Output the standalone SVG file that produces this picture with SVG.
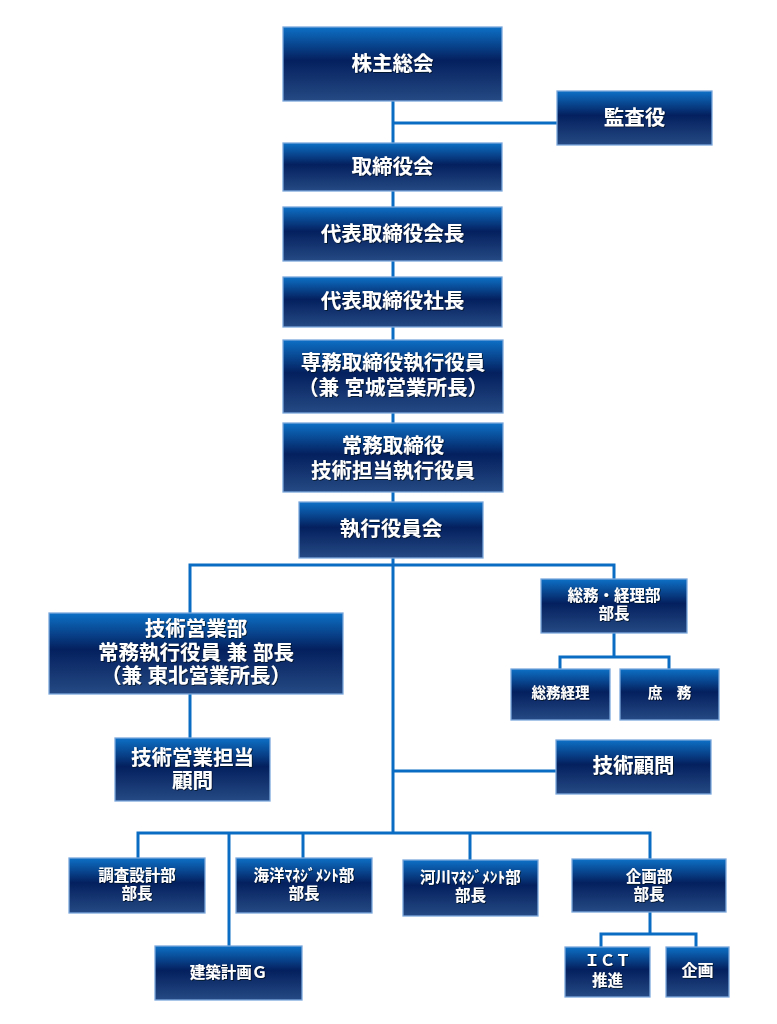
<svg xmlns="http://www.w3.org/2000/svg" width="777" height="1024" viewBox="0 0 777 1024">
<defs>
<linearGradient id="g" x1="0" y1="0" x2="0" y2="1">
<stop offset="0" stop-color="#0d70c6"/>
<stop offset="0.45" stop-color="#04205e"/>
<stop offset="1" stop-color="#254a84"/>
</linearGradient>
<filter id="sh" x="-10%" y="-30%" width="120%" height="160%">
<feDropShadow dx="0.8" dy="0.8" stdDeviation="0.6" flood-color="#000814" flood-opacity="0.9"/>
</filter>
</defs>
<style>
.b{fill:url(#g);stroke:#7ca8dc;stroke-width:1.3}
.t{fill:#ffffff;font-family:"Liberation Sans","Noto Sans CJK JP","Noto Sans CJK SC",sans-serif;font-weight:bold;text-anchor:middle;dominant-baseline:central;filter:url(#sh)}
.l{font-size:20.5px}
.m{font-size:16px}
.s{font-size:15.5px}
.x{font-size:14.5px}
.c{fill:none;stroke:#0b6cc4;stroke-width:3}
</style>
<rect width="777" height="1024" fill="#ffffff"/>
<g id="connectors">
<path class="c" d="M393,101 V833"/>
<path class="c" d="M393,123 H557"/>
<path class="c" d="M190,613 V565 H614 V579"/>
<path class="c" d="M190,694 V738"/>
<path class="c" d="M393,771 H556"/>
<path class="c" d="M614,633 V657"/>
<path class="c" d="M560,669 V657 H669 V669"/>
<path class="c" d="M138,858 V833 H650 V859"/>
<path class="c" d="M229,833 V946"/>
<path class="c" d="M303,833 V858"/>
<path class="c" d="M470,833 V860"/>
<path class="c" d="M650,912 V934"/>
<path class="c" d="M601,947 V934 H696 V947"/>
</g>
<g id="n1"><rect class="b" x="283" y="27" width="219" height="74"/><text class="t l" x="392.5" y="63">株主総会</text></g>
<g id="n2"><rect class="b" x="557" y="91" width="155" height="54"/><text class="t l" x="634.5" y="117">監査役</text></g>
<g id="n3"><rect class="b" x="283" y="143" width="219" height="48"/><text class="t l" x="392.5" y="166">取締役会</text></g>
<g id="n4"><rect class="b" x="283" y="207" width="219" height="54"/><text class="t l" x="392.5" y="233">代表取締役会長</text></g>
<g id="n5"><rect class="b" x="283" y="277" width="219" height="50"/><text class="t l" x="392.5" y="300">代表取締役社長</text></g>
<g id="n6"><rect class="b" x="283" y="340" width="220" height="73"/><text class="t l"><tspan x="393" y="362">専務取締役執行役員</tspan><tspan x="393" y="387">（兼 宮城営業所長）</tspan></text></g>
<g id="n7"><rect class="b" x="283" y="423" width="220" height="69"/><text class="t l"><tspan x="393" y="445">常務取締役</tspan><tspan x="393" y="470">技術担当執行役員</tspan></text></g>
<g id="n8"><rect class="b" x="299" y="502" width="184" height="56"/><text class="t l" x="391" y="528">執行役員会</text></g>
<g id="n9"><rect class="b" x="49" y="613" width="294" height="81"/><text class="t l"><tspan x="196" y="628">技術営業部</tspan><tspan x="196" y="652">常務執行役員 兼 部長</tspan><tspan x="196" y="675">（兼 東北営業所長）</tspan></text></g>
<g id="n10"><rect class="b" x="115" y="738" width="155" height="63"/><text class="t l"><tspan x="192.5" y="757">技術営業担当</tspan><tspan x="192.5" y="780">顧問</tspan></text></g>
<g id="n11"><rect class="b" x="541" y="579" width="146" height="54"/><text class="t s"><tspan x="614" y="595">総務・経理部</tspan><tspan x="614" y="613">部長</tspan></text></g>
<g id="n12"><rect class="b" x="511" y="669" width="99" height="51"/><text class="t x" x="560.5" y="693">総務経理</text></g>
<g id="n13"><rect class="b" x="620" y="669" width="99" height="51"/><text class="t x" x="669.5" y="693">庶　務</text></g>
<g id="n14"><rect class="b" x="556" y="740" width="155" height="54"/><text class="t l" x="633.5" y="765">技術顧問</text></g>
<g id="n15"><rect class="b" x="69" y="858" width="136" height="55"/><text class="t s"><tspan x="137" y="875">調査設計部</tspan><tspan x="137" y="893">部長</tspan></text></g>
<g id="n16"><rect class="b" x="236" y="858" width="136" height="55"/><text class="t s"><tspan x="304" y="875">海洋ﾏﾈｼﾞﾒﾝﾄ部</tspan><tspan x="304" y="893">部長</tspan></text></g>
<g id="n17"><rect class="b" x="155" y="946" width="147" height="54"/><text class="t s" x="228.5" y="972">建築計画Ｇ</text></g>
<g id="n18"><rect class="b" x="403" y="860" width="135" height="56"/><text class="t s"><tspan x="470.5" y="877">河川ﾏﾈｼﾞﾒﾝﾄ部</tspan><tspan x="470.5" y="895">部長</tspan></text></g>
<g id="n19"><rect class="b" x="572" y="859" width="154" height="53"/><text class="t s"><tspan x="649" y="876">企画部</tspan><tspan x="649" y="894">部長</tspan></text></g>
<g id="n20"><rect class="b" x="565" y="947" width="85" height="50"/><text class="t s"><tspan x="607.5" y="960">ＩＣＴ</tspan><tspan x="607.5" y="980">推進</tspan></text></g>
<g id="n21"><rect class="b" x="666" y="947" width="63" height="50"/><text class="t m" x="697.5" y="970">企画</text></g>
</svg>
